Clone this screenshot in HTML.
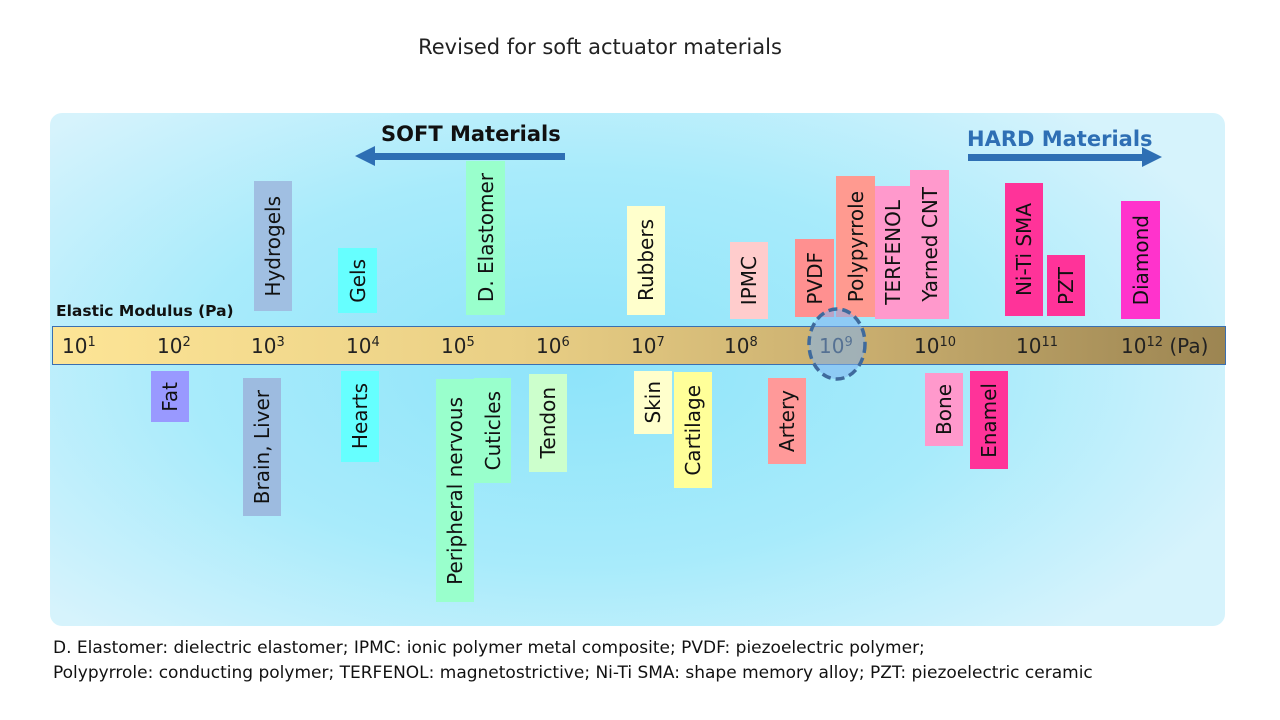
<!DOCTYPE html>
<html><head><meta charset="utf-8"><style>
body{margin:0;width:1280px;height:720px;background:#fff;position:relative;overflow:hidden;font-family:"DejaVu Sans","Liberation Sans",sans-serif;}
.panel{position:absolute;left:50px;top:113px;width:1175px;height:513px;border-radius:12px;background:radial-gradient(ellipse 60% 70% at 45% 50%,#8ee4fa 0%,#a8ebfb 55%,#d6f3fc 100%);}
.b{position:absolute;display:flex;align-items:center;justify-content:center;}
.b span{writing-mode:vertical-rl;transform:rotate(180deg);font-size:20px;color:#111;white-space:nowrap;}
.bar{position:absolute;left:52px;top:326px;width:1172px;height:37px;border:1px solid #3a6fb0;background:linear-gradient(90deg,#fde596 0%,#e9cf85 40%,#c8ad6e 70%,#9c8552 100%);}
.t{position:absolute;top:334px;font-size:20px;color:#222;}
.t sup{font-size:13px;vertical-align:7px;}
</style></head><body>
<div style="position:absolute;top:35px;left:0;width:1200px;text-align:center;font-size:21px;color:#222;">Revised for soft actuator materials</div>
<div class="panel"></div>
<div style="position:absolute;left:381px;top:122px;font-size:21px;font-weight:bold;color:#111;">SOFT Materials</div>
<svg style="position:absolute;left:0;top:0" width="1280" height="720">
<rect x="372" y="153" width="193" height="7" fill="#2e6fb4"/><polygon points="355,156 375,146 375,166" fill="#2e6fb4"/>
<rect x="968" y="154" width="176" height="7" fill="#2e6fb4"/><polygon points="1162,157 1142,147 1142,167" fill="#2e6fb4"/>
</svg>
<div style="position:absolute;left:967px;top:127px;font-size:21px;font-weight:bold;color:#2e6fb4;">HARD Materials</div>
<div style="position:absolute;left:56px;top:302px;font-size:15.5px;font-weight:bold;color:#111;">Elastic Modulus (Pa)</div>

<div class="b" style="left:254px;top:181px;width:38px;height:130px;background:#a0bfe2"><span>Hydrogels</span></div>
<div class="b" style="left:338px;top:248px;width:39px;height:65px;background:#66ffff"><span>Gels</span></div>
<div class="b" style="left:466px;top:161px;width:39px;height:154px;background:#99ffcc"><span>D. Elastomer</span></div>
<div class="b" style="left:627px;top:206px;width:38px;height:109px;background:#ffffcc"><span>Rubbers</span></div>
<div class="b" style="left:730px;top:242px;width:38px;height:77px;background:#ffcccc"><span>IPMC</span></div>
<div class="b" style="left:795px;top:239px;width:39px;height:78px;background:#ff9090"><span>PVDF</span></div>
<div class="b" style="left:836px;top:176px;width:39px;height:141px;background:#ff9a90"><span>Polypyrrole</span></div>
<div class="b" style="left:875px;top:186px;width:35px;height:133px;background:#ff99cc"><span>TERFENOL</span></div>
<div class="b" style="left:910px;top:170px;width:39px;height:149px;background:#ff99cc"><span>Yarned CNT</span></div>
<div class="b" style="left:1005px;top:183px;width:38px;height:133px;background:#ff3399"><span>Ni-Ti SMA</span></div>
<div class="b" style="left:1047px;top:255px;width:38px;height:61px;background:#ff3399"><span>PZT</span></div>
<div class="b" style="left:1121px;top:201px;width:39px;height:118px;background:#ff33cc"><span>Diamond</span></div>

<div class="bar"></div>
<div class="t" style="left:62px">10<sup>1</sup></div>
<div class="t" style="left:157px">10<sup>2</sup></div>
<div class="t" style="left:251px">10<sup>3</sup></div>
<div class="t" style="left:346px">10<sup>4</sup></div>
<div class="t" style="left:441px">10<sup>5</sup></div>
<div class="t" style="left:536px">10<sup>6</sup></div>
<div class="t" style="left:631px">10<sup>7</sup></div>
<div class="t" style="left:724px">10<sup>8</sup></div>
<div class="t" style="left:819px">10<sup>9</sup></div>
<div class="t" style="left:914px">10<sup>10</sup></div>
<div class="t" style="left:1016px">10<sup>11</sup></div>
<div class="t" style="left:1121px">10<sup>12</sup>&nbsp;(Pa)</div>
<svg style="position:absolute;left:0;top:0" width="1280" height="720">
<ellipse cx="837" cy="344" rx="28" ry="35" fill="#7fb2f0" fill-opacity="0.55" stroke="#3f6a9c" stroke-width="3.5" stroke-dasharray="9,5"/>
</svg>

<div class="b" style="left:151px;top:371px;width:38px;height:51px;background:#9999ff"><span>Fat</span></div>
<div class="b" style="left:243px;top:378px;width:38px;height:138px;background:#9dbbe0"><span>Brain, Liver</span></div>
<div class="b" style="left:341px;top:371px;width:38px;height:91px;background:#66ffff"><span>Hearts</span></div>
<div class="b" style="left:436px;top:379px;width:38px;height:223px;background:#99ffcc"><span>Peripheral nervous</span></div>
<div class="b" style="left:474px;top:378px;width:37px;height:105px;background:#99ffcc"><span>Cuticles</span></div>
<div class="b" style="left:529px;top:374px;width:38px;height:98px;background:#ccffcc"><span>Tendon</span></div>
<div class="b" style="left:634px;top:371px;width:38px;height:63px;background:#ffffcc"><span>Skin</span></div>
<div class="b" style="left:674px;top:372px;width:38px;height:116px;background:#ffff99"><span>Cartilage</span></div>
<div class="b" style="left:768px;top:378px;width:38px;height:86px;background:#ff9999"><span>Artery</span></div>
<div class="b" style="left:925px;top:373px;width:38px;height:73px;background:#ff99cc"><span>Bone</span></div>
<div class="b" style="left:970px;top:371px;width:38px;height:98px;background:#ff3399"><span>Enamel</span></div>

<div style="position:absolute;left:53px;top:636px;font-size:17px;color:#111;line-height:25px;white-space:nowrap;">D. Elastomer: dielectric elastomer; IPMC: ionic polymer metal composite; PVDF: piezoelectric polymer;<br>Polypyrrole: conducting polymer; TERFENOL: magnetostrictive; Ni-Ti SMA: shape memory alloy; PZT: piezoelectric ceramic</div>
</body></html>
